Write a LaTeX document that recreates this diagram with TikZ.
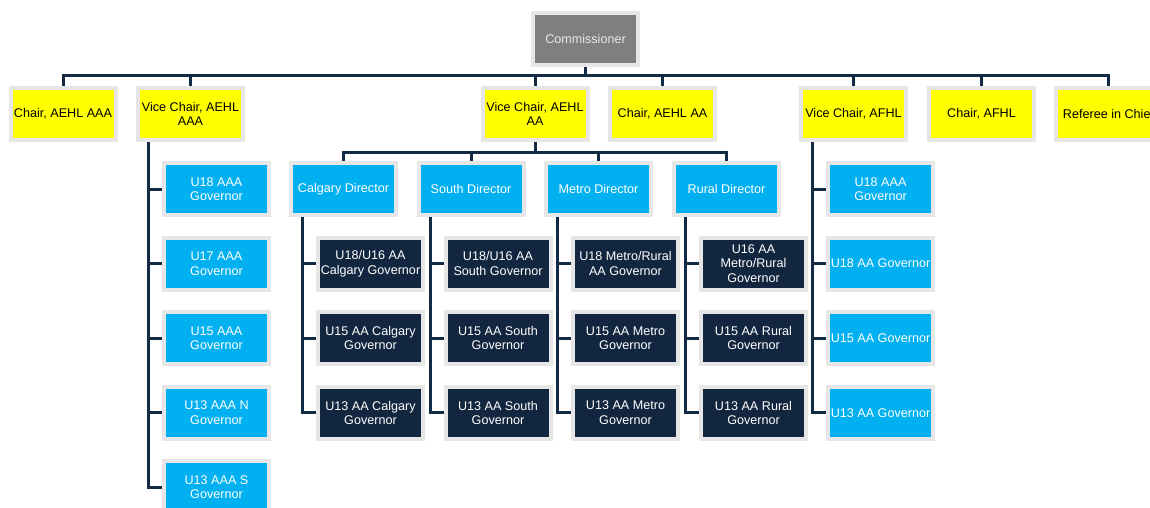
\documentclass[tikz,border=0pt]{standalone}
\usepackage{fontspec}
\setmainfont{Liberation Sans}
\usetikzlibrary{backgrounds}
\definecolor{bordergray}{HTML}{E6E6E6}
\definecolor{linecol}{HTML}{132A44}
\definecolor{yel}{HTML}{FFFF00}
\definecolor{sky}{HTML}{00B0F0}
\definecolor{navy}{HTML}{12263F}
\definecolor{grayfill}{HTML}{7F7F7F}
\definecolor{lighttext}{HTML}{E8E8E8}
\begin{document}
\begin{tikzpicture}[x=1pt,y=-1pt,
  box/.style={draw=bordergray,line width=4pt,minimum width=105pt,minimum height=52pt,inner sep=1pt,align=center,font=\fontsize{12.6}{14.5}\selectfont},
  ylw/.style={box,fill=yel,text=black},
  blu/.style={box,fill=sky,text=white},
  dark/.style={box,fill=navy,text=white},
  gry/.style={box,fill=grayfill,text=lighttext},
  conn/.style={draw=linecol,line width=3pt}]
\useasboundingbox (0,0) rectangle (1150,508);
\clip (0,0) rectangle (1150,508);
% top
\node[gry] (comm) at (585.5,39) {Commissioner};
% level 1
\node[ylw] (chAAA) at (63,114) {Chair, AEHL AAA};
\node[ylw] (vcAAA) at (190.5,114) {Vice Chair, AEHL\\AAA};
\node[ylw] (vcAA) at (535,114) {Vice Chair, AEHL\\AA};
\node[ylw] (chAA) at (662.5,114) {Chair, AEHL AA};
\node[ylw] (vcAFHL) at (853.5,114) {Vice Chair, AFHL};
\node[ylw] (chAFHL) at (981.5,114) {Chair, AFHL};
\node[ylw] (ref) at (1108.5,114) {Referee in Chief};
% AAA governors
\node[blu] (a1) at (216.5,189) {U18 AAA\\Governor};
\node[blu] (a2) at (216.5,263.6) {U17 AAA\\Governor};
\node[blu] (a3) at (216.5,338.2) {U15 AAA\\Governor};
\node[blu] (a4) at (216.5,412.8) {U13 AAA N\\Governor};
\node[blu] (a5) at (216.5,487.4) {U13 AAA S\\Governor};
% directors
\node[blu] (cal) at (343.5,189) {Calgary Director};
\node[blu] (sou) at (471,189) {South Director};
\node[blu] (met) at (598.5,189) {Metro Director};
\node[blu] (rur) at (726.5,189) {Rural Director};
% calgary
\node[dark] (c1) at (370.5,263.6) {U18/U16 AA\\Calgary Governor};
\node[dark] (c2) at (370.5,338.2) {U15 AA Calgary\\Governor};
\node[dark] (c3) at (370.5,412.8) {U13 AA Calgary\\Governor};
% south
\node[dark] (s1) at (498,263.6) {U18/U16 AA\\South Governor};
\node[dark] (s2) at (498,338.2) {U15 AA South\\Governor};
\node[dark] (s3) at (498,412.8) {U13 AA South\\Governor};
% metro
\node[dark] (m1) at (625.5,263.6) {U18 Metro/Rural\\AA Governor};
\node[dark] (m2) at (625.5,338.2) {U15 AA Metro\\Governor};
\node[dark] (m3) at (625.5,412.8) {U13 AA Metro\\Governor};
% rural
\node[dark] (r1) at (753.5,263.6) {U16 AA\\Metro/Rural\\Governor};
\node[dark] (r2) at (753.5,338.2) {U15 AA Rural\\Governor};
\node[dark] (r3) at (753.5,412.8) {U13 AA Rural\\Governor};
% AFHL
\node[blu] (f1) at (880.5,189) {U18 AAA\\Governor};
\node[blu] (f2) at (880.5,263.6) {U18 AA Governor};
\node[blu] (f3) at (880.5,338.2) {U15 AA Governor};
\node[blu] (f4) at (880.5,412.8) {U13 AA Governor};
\begin{scope}[on background layer]
  \coordinate (bus) at (585.5,76);
  \coordinate (bus2) at (535,152.5);
  \draw[conn] (comm.south) -- (bus);
  \draw[conn] (chAAA.north) |- (bus) -| (ref.north);
  \foreach \n in {vcAAA,vcAA,chAA,vcAFHL,chAFHL}
    \draw[conn] (\n.north) -- (\n.north |- bus);
  \draw[conn] (vcAA.south) -- (bus2);
  \draw[conn] (cal.north) |- (bus2) -| (rur.north);
  \draw[conn] (sou.north) -- (sou.north |- bus2);
  \draw[conn] (met.north) -- (met.north |- bus2);
  % spines
  \coordinate (spA) at ([xshift=-42pt]vcAAA.south);
  \foreach \c in {a1,a2,a3,a4,a5} \draw[conn] (spA) |- (\c.west);
  \coordinate (spC) at ([xshift=-41pt]cal.south);
  \foreach \c in {c1,c2,c3} \draw[conn] (spC) |- (\c.west);
  \coordinate (spS) at ([xshift=-41pt]sou.south);
  \foreach \c in {s1,s2,s3} \draw[conn] (spS) |- (\c.west);
  \coordinate (spM) at ([xshift=-41pt]met.south);
  \foreach \c in {m1,m2,m3} \draw[conn] (spM) |- (\c.west);
  \coordinate (spR) at ([xshift=-41pt]rur.south);
  \foreach \c in {r1,r2,r3} \draw[conn] (spR) |- (\c.west);
  \coordinate (spF) at ([xshift=-41pt]vcAFHL.south);
  \foreach \c in {f1,f2,f3,f4} \draw[conn] (spF) |- (\c.west);
\end{scope}
\end{tikzpicture}
\end{document}
